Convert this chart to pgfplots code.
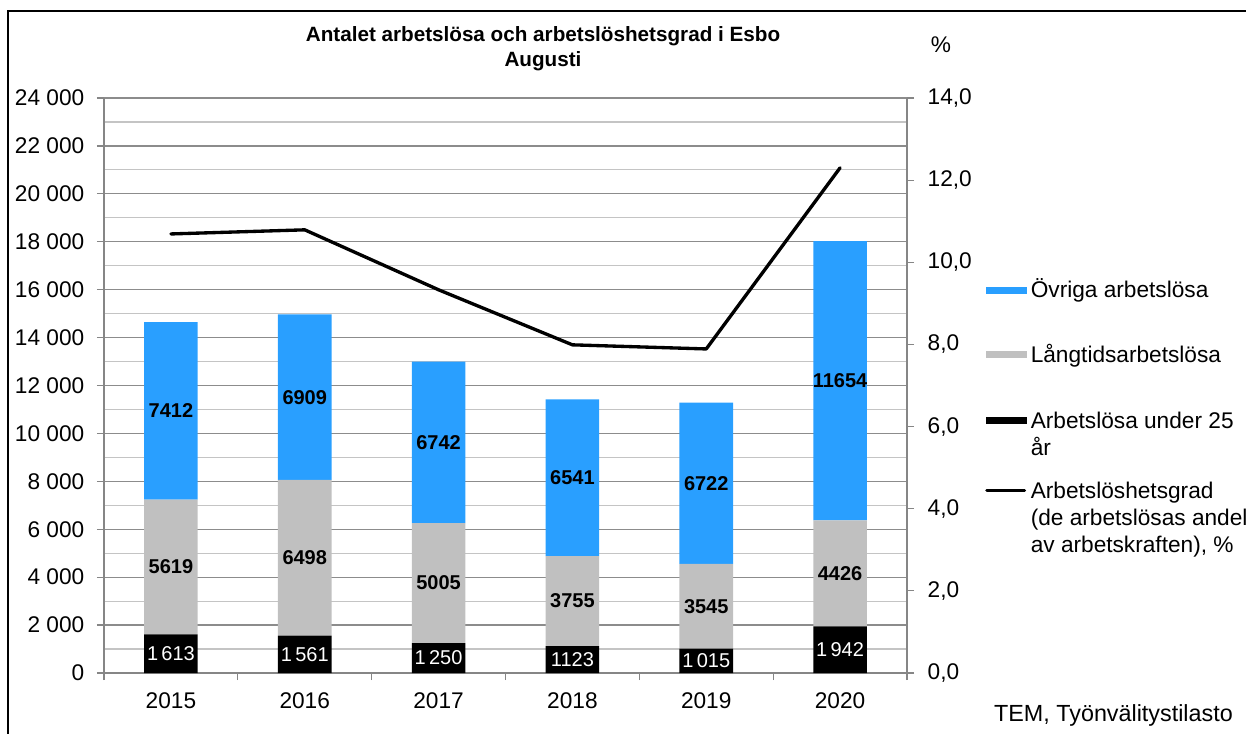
\documentclass[border=0pt]{standalone}
\usepackage{fontspec}
\setmainfont{Liberation Sans}
\usepackage{pgfplots}
\pgfplotsset{compat=1.18}
\definecolor{cblue}{RGB}{41,159,255}
\definecolor{cgray}{RGB}{192,192,192}
\definecolor{axgray}{RGB}{134,134,134}
\definecolor{mgrid}{RGB}{140,140,140}
\definecolor{ngrid}{RGB}{196,196,196}
\newcommand{\lent}[2]{\raisebox{0pt}[#1][2pt]{\begin{tabular}[t]{@{}l@{}}#2\end{tabular}}}
\begin{document}
\begin{tikzpicture}
\useasboundingbox (0,0) rectangle (934.5pt,549.75pt);
\draw[line width=1.5pt] (6pt,-20pt) -- (6pt,541.5pt) -- (960pt,541.5pt);
\pgfplotsset{
  base/.style={
    scale only axis, width=602.25pt, height=431.25pt,
    at={(78pt,45pt)}, anchor=south west,
    xmin=-0.5, xmax=5.5,
    tick align=outside,
    major tick length=5.25pt, minor tick length=0pt,
    tick style={axgray, line width=0.9pt},
    axis line style={axgray, line width=0.9pt},
    ticklabel style={font=\fontsize{17}{20}\selectfont},
    /pgf/number format/assume math mode=true,
  }
}
% main axis: stacked bars
\begin{axis}[base,
  ybar stacked, bar width=0.4,
  ymin=0, ymax=24000, ytick={0,2000,...,24000},
  minor y tick num=1,
  ymajorgrids, yminorgrids,
  major grid style={mgrid, line width=0.9pt},
  minor grid style={ngrid, line width=0.9pt},
  axis y line*=left, axis x line*=bottom,
  scaled y ticks=false,
  yticklabel style={xshift=-6pt, /pgf/number format/.cd, 1000 sep={\ }},
  xtick={-0.5,0.5,...,5.5}, xticklabels={},
  extra x ticks={0,1,2,3,4,5},
  extra x tick labels={2015,2016,2017,2018,2019,2020},
  extra x tick style={major tick length=0pt, xticklabel style={yshift=-11pt}},
  clip=false,
]
\addplot[fill=black, draw=none] coordinates {(0,1613) (1,1561) (2,1250) (3,1123) (4,1015) (5,1942)};
\addplot[fill=cgray, draw=none] coordinates {(0,5619) (1,6498) (2,5005) (3,3755) (4,3545) (5,4426)};
\addplot[fill=cblue, draw=none] coordinates {(0,7412) (1,6909) (2,6742) (3,6541) (4,6722) (5,11654)};
\end{axis}
% labels axis
\begin{axis}[base, hide axis, ymin=0, ymax=24000, clip=false,
  nodes near coords, point meta=explicit symbolic,
]
\addplot[draw=none, mark=none, every node near coord/.append style={anchor=center, text=white, font=\fontsize{15}{18}\selectfont}]
  coordinates {(0,806.5)[1\,613] (1,780.5)[1\,561] (2,625)[1\,250] (3,561.5)[1123] (4,507.5)[1\,015] (5,971)[1\,942]};
\addplot[draw=none, mark=none, every node near coord/.append style={anchor=center, text=black, font=\bfseries\fontsize{15}{18}\selectfont}]
  coordinates {(0,4422.5)[5619] (1,4810)[6498] (2,3752.5)[5005] (3,3000.5)[3755] (4,2787.5)[3545] (5,4155)[4426]};
\addplot[draw=none, mark=none, every node near coord/.append style={anchor=center, text=black, font=\bfseries\fontsize{15}{18}\selectfont}]
  coordinates {(0,10938)[7412] (1,11513.5)[6909] (2,9626)[6742] (3,8148.5)[6541] (4,7921)[6722] (5,12195)[11654]};
\end{axis}
% right axis: line + legend
\begin{axis}[base,
  ymin=0, ymax=14, ytick={0,2,...,14},
  axis y line*=right, axis x line=none,
  yticklabel style={xshift=6.75pt, /pgf/number format/.cd, fixed, fixed zerofill, precision=1, use comma},
  legend style={at={(1.0971,0.684)}, anchor=north west, draw=none, fill=none,
    inner sep=0pt, row sep=33.25pt, column sep=0pt,
    nodes={inner sep=0pt},
    font=\fontsize{17}{20.25}\selectfont},
  legend cell align=left,
  clip=false,
]
\addlegendimage{legend image code/.code={\fill[cblue] (0pt,-2.25pt) rectangle (30pt,2.25pt);}}
\addlegendentry{\,\lent{13.5pt}{Övriga arbetslösa}}
\addlegendimage{legend image code/.code={\fill[cgray] (0pt,-2.25pt) rectangle (30pt,2.25pt);}}
\addlegendentry{\,\lent{13.5pt}{Långtidsarbetslösa}}
\addlegendimage{legend image code/.code={\fill[black] (0pt,-3pt) rectangle (30pt,1.5pt);}}
\addlegendentry{\,\lent{15pt}{Arbetslösa under 25\\år}}
\addplot[black, line width=2.5pt, line cap=round, line join=round, mark=none,
  legend image code/.code={\draw[black, line width=2.25pt] (0pt,-2.25pt) -- (28.5pt,-2.25pt);}]
  coordinates {(0,10.69) (1,10.79) (2,9.33) (3,7.99) (4,7.89) (5,12.3)};
\addlegendentry{\,\lent{18pt}{Arbetslöshetsgrad\\(de arbetslösas andel\\av arbetskraften), \%}}
\end{axis}
\node[font=\bfseries\fontsize{15.5}{18.75}\selectfont, align=center] at (407.25pt,513.4pt)
  {Antalet arbetslösa och arbetslöshetsgrad i Esbo\\Augusti};
\node[font=\fontsize{17}{20}\selectfont] at (705.75pt,516pt) {\%};
\node[font=\fontsize{17.5}{20}\selectfont, anchor=east, inner sep=0pt] at (924.75pt,13.5pt) {TEM, Työnvälitystilasto};
\end{tikzpicture}
\end{document}
